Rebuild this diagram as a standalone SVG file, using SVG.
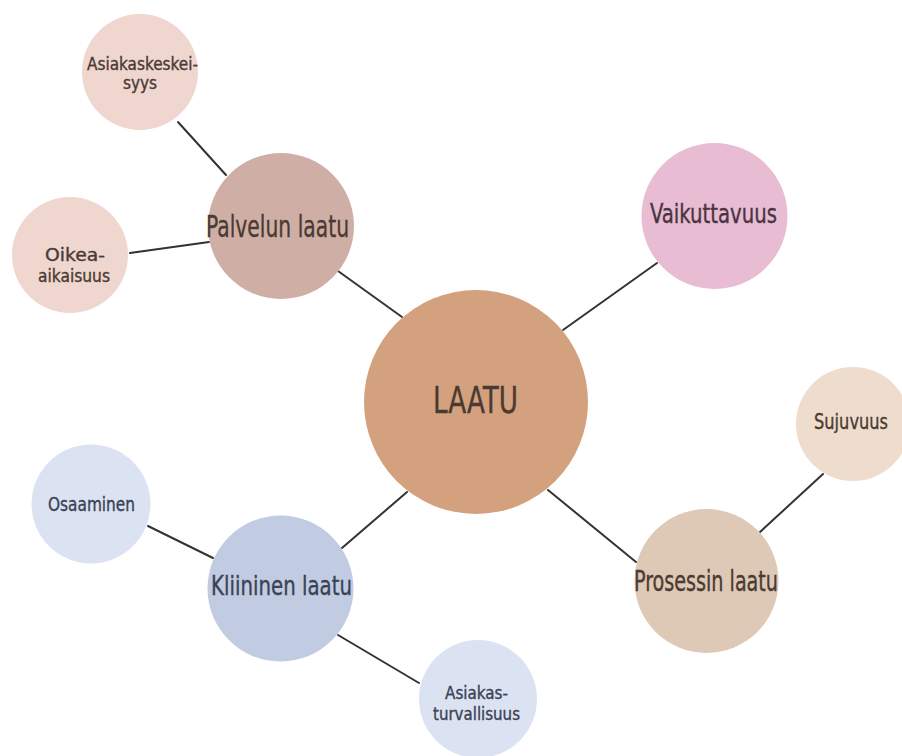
<svg xmlns="http://www.w3.org/2000/svg" width="902" height="756" viewBox="0 0 902 756">
  <style>
    .edge { stroke: #333333; stroke-width: 2; fill: none; stroke-linecap: round; }
    text { font-family: "DejaVu Sans Condensed", "Liberation Sans Narrow", "Liberation Sans", Arial, sans-serif; text-anchor: middle; stroke-width: 0.35; }
    .warm { fill: #4b3a33; stroke: #4b3a33; }
    .cool { fill: #3b4254; stroke: #3b4254; }
    .plum { fill: #4a3441; stroke: #4a3441; }
  </style>
  <rect width="902" height="756" fill="#ffffff"/>

  <g id="connectors">
    <line class="edge" x1="178" y1="122" x2="226" y2="175"/>
    <line class="edge" x1="130" y1="253" x2="209" y2="242"/>
    <line class="edge" x1="338" y1="271" x2="402" y2="317"/>
    <line class="edge" x1="563" y1="330" x2="657" y2="263"/>
    <line class="edge" x1="548" y1="490" x2="636" y2="562"/>
    <line class="edge" x1="823" y1="474" x2="760" y2="532"/>
    <line class="edge" x1="407" y1="492" x2="342" y2="548"/>
    <line class="edge" x1="148" y1="526" x2="213" y2="558"/>
    <line class="edge" x1="338" y1="635" x2="419" y2="683"/>
  </g>

  <g id="laatu">
    <circle cx="476" cy="402" r="112" fill="#d3a17d"/>
    <text class="warm" x="475.5" y="413" font-size="38" textLength="85" lengthAdjust="spacingAndGlyphs">LAATU</text>
  </g>

  <g id="palvelun-laatu">
    <circle cx="281" cy="226" r="73" fill="#cfafa5"/>
    <text class="warm" x="277.5" y="237" font-size="30" textLength="143" lengthAdjust="spacingAndGlyphs">Palvelun laatu</text>
  </g>

  <g id="asiakaskeskeisyys">
    <circle cx="140" cy="72" r="58" fill="#efd7cf"/>
    <text class="warm" x="142.5" y="70" font-size="17" textLength="111" lengthAdjust="spacingAndGlyphs">Asiakaskeskei-</text>
    <text class="warm" x="140" y="89" font-size="17" textLength="34" lengthAdjust="spacingAndGlyphs">syys</text>
  </g>

  <g id="oikea-aikaisuus">
    <circle cx="70" cy="255" r="58" fill="#efd7cf"/>
    <text class="warm" x="75" y="261" font-size="18" textLength="60" lengthAdjust="spacingAndGlyphs">Oikea-</text>
    <text class="warm" x="74" y="282" font-size="18" textLength="72" lengthAdjust="spacingAndGlyphs">aikaisuus</text>
  </g>

  <g id="vaikuttavuus">
    <circle cx="714.5" cy="216" r="73" fill="#e8bdd3"/>
    <text class="plum" x="713.5" y="223" font-size="26" textLength="127" lengthAdjust="spacingAndGlyphs">Vaikuttavuus</text>
  </g>

  <g id="sujuvuus">
    <circle cx="853" cy="424" r="57" fill="#eeddcd"/>
    <text class="warm" x="851" y="429" font-size="22" textLength="74" lengthAdjust="spacingAndGlyphs">Sujuvuus</text>
  </g>

  <g id="prosessin-laatu">
    <circle cx="706.5" cy="581" r="72" fill="#dec9b6"/>
    <text class="warm" x="706" y="591" font-size="28" textLength="144" lengthAdjust="spacingAndGlyphs">Prosessin laatu</text>
  </g>

  <g id="kliininen-laatu">
    <circle cx="280.5" cy="588.5" r="73" fill="#c1cce2"/>
    <text class="cool" x="281.5" y="595" font-size="26" textLength="141" lengthAdjust="spacingAndGlyphs">Kliininen laatu</text>
  </g>

  <g id="osaaminen">
    <circle cx="91" cy="504" r="59.5" fill="#dbe3f3"/>
    <text class="cool" x="91.5" y="511" font-size="19" textLength="87" lengthAdjust="spacingAndGlyphs">Osaaminen</text>
  </g>

  <g id="asiakasturvallisuus">
    <circle cx="478" cy="699" r="59" fill="#dbe3f3"/>
    <text class="cool" x="476.5" y="699" font-size="18" textLength="63" lengthAdjust="spacingAndGlyphs">Asiakas-</text>
    <text class="cool" x="476.5" y="720" font-size="18" textLength="87" lengthAdjust="spacingAndGlyphs">turvallisuus</text>
  </g>
</svg>
